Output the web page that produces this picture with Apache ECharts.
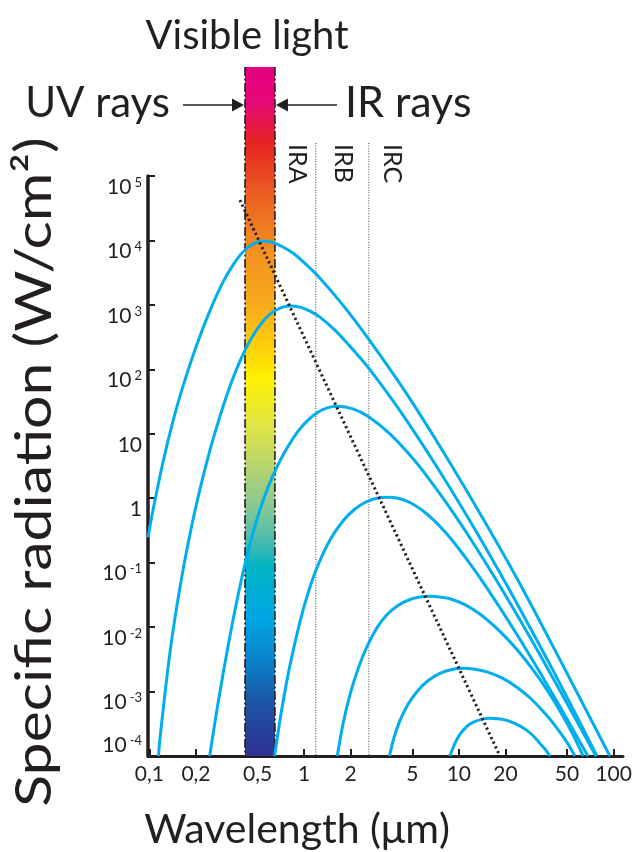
<!DOCTYPE html>
<html>
<head>
<meta charset="utf-8">
<title>Specific radiation of a black body</title>
<script src="https://cdn.jsdelivr.net/npm/echarts@6.0.0/dist/echarts.min.js"></script>
<style>
html,body{margin:0;padding:0;background:#ffffff;}
#chart{width:642px;height:852px;}
</style>
</head>
<body>
<div id="chart"></div>
<script>
// ---------------- data ----------------
const xTickValues = [0.1, 0.2, 0.5, 1, 2, 5, 10, 20, 50, 100];
const xTickLabels = ['0,1', '0,2', '0,5', '1', '2', '5', '10', '20', '50', '100'];
const yTickValues = [1e-4, 1e-3, 1e-2, 1e-1, 1, 10, 1e2, 1e3, 1e4, 1e5];

// [wavelength (µm), specific radiation (W/cm²)]
const curve5000K = [[0.098,0.248],[0.1055,0.651],[0.1225,3.62],[0.1421,15.7],[0.165,54.8],[0.1913,163],[0.2221,436],[0.2577,1048],[0.299,2259],[0.347,4150],[0.4026,6604],[0.4672,8794],[0.542,9788],[0.6289,9278],[0.7298,7899],[0.847,6373],[0.9829,4703],[1.2286,2801],[1.7822,993],[2.5844,305],[4.4817,45.9],[7.8873,5.37],[13.674,0.585],[23.711,0.0573],[46.315,0.00274],[94.56,1e-4]];
const curve4000K = [[0.1146,1e-4],[0.1171,1.88e-4],[0.1359,0.00406],[0.1577,0.0415],[0.183,0.276],[0.2124,1.38],[0.2464,5.56],[0.286,18.8],[0.3319,54.8],[0.385,134],[0.4468,279],[0.5184,486],[0.6014,720],[0.6979,892],[0.81,958],[0.94,924],[1.0907,801],[1.2657,646],[1.5822,406],[1.9778,229],[2.5844,108],[4.1595,22.8],[7.5432,2.58],[12.694,0.33],[20.434,0.0446],[28.77,0.00993],[41.733,0.00188],[58.753,3.84e-4],[77.94,1e-4]];
const curve2000K = [[0.2453,1e-4],[0.2776,6.51e-4],[0.3222,0.005],[0.3737,0.0307],[0.4337,0.1466],[0.5032,0.531],[0.5838,1.471],[0.6774,3.29],[0.7863,6.37],[0.9125,10.9],[1.0588,16.3],[1.2286,21.6],[1.4257,25.4],[1.6544,26.8],[2.068,24.4],[2.5844,18.7],[3.5852,9.96],[5.0478,4.12],[6.5,1.91],[8.753,0.707],[12.14,0.217],[17.093,0.0585],[24.793,0.013],[35.952,0.00272],[52.164,5.45e-4],[76.79,1e-4]];
const curve1000K = [[0.644,1e-4],[0.719,5.51e-4],[0.81,0.00255],[0.94,0.0121],[1.0588,0.0333],[1.2105,0.0833],[1.4688,0.224],[1.7822,0.443],[2.1305,0.681],[2.5462,0.89],[2.9546,1.0],[3.4287,1.036],[4.0376,0.996],[4.8275,0.858],[5.7705,0.656],[6.7966,0.469],[8.1255,0.301],[9.714,0.18],[11.44,0.107],[13.674,0.0587],[18.414,0.0201],[24.793,0.00647],[33.376,0.00199],[44.958,5.85e-4],[56.191,2.28e-4],[68.17,1e-4]];
const curve673K = [[1.6372,1e-4],[1.7822,3.11e-4],[1.9778,8.9e-4],[2.2277,0.00222],[2.5462,0.00497],[2.9546,0.00972],[3.4287,0.0155],[4.0376,0.0216],[4.8275,0.0268],[5.6014,0.0293],[6.5,0.0301],[7.5432,0.0294],[8.753,0.0276],[10.94,0.0224],[13.674,0.016],[17.093,0.0102],[20.434,0.00669],[24.793,0.00396],[30.082,0.00219],[37.038,0.00107],[44.958,5.05e-4],[53.738,2.33e-4],[63.57,1e-4]];
const curve363K = [[3.564,1e-4],[3.8047,1.9e-4],[4.1595,3.53e-4],[4.6861,6.3e-4],[5.357,9.96e-4],[6.3096,0.00147],[7.5432,0.00192],[9.0175,0.0022],[10.619,0.00229],[12.694,0.00222],[15.178,0.00202],[18.97,0.00163],[23.711,0.00117],[28.77,8.01e-4],[34.899,4.98e-4],[41.733,2.98e-4],[49.887,1.64e-4],[56.191,1e-4]];
const curve200K = [[8.753,1e-4],[9.4293,1.57e-4],[10.156,2.16e-4],[11.271,2.88e-4],[12.322,3.32e-4],[13.674,3.64e-4],[15.636,3.84e-4],[17.873,3.77e-4],[20.434,3.57e-4],[23.711,3.09e-4],[27.514,2.5e-4],[30.533,2.01e-4],[33.376,1.57e-4],[35.952,1.29e-4],[38.726,1e-4]];
const wienPeakLine = [[0.385,42400],[18.41,1e-4]];

const visibleRange = [0.415, 0.648];
const irBoundaries = [1.19, 2.62];
const irBandNames = ['IRA', 'IRB', 'IRC'];
const irBandLabelX = [0.906, 1.782, 3.69];
const curveLabelNames = ['5000 K', '4000 K', '2000 K', '1000 K', '673 K', '500 K', '363 K', '300 K', '200 K'];
const curveLabelAnchors = [[0.1957,1253],[0.2695,134],[0.4813,3.25],[1.175,0.318],[1.863,0.0218],[2.663,0.01067],[3.183,0.00255],[4.35,0.00112],[8.88,3.84e-4]];

// ---------------- style ----------------
const FONT = 'Lato, "Open Sans", sans-serif';
const INK = '#231f20';
const CYAN = '#00aeef';
const bandStops = [
  {offset:0, color:'#e4007f'}, {offset:0.05, color:'#e6097a'}, {offset:0.11, color:'#e52421'},
  {offset:0.19, color:'#ec6223'}, {offset:0.27, color:'#f39220'}, {offset:0.35, color:'#f8ad1c'},
  {offset:0.41, color:'#fdd20a'}, {offset:0.45, color:'#fff100'}, {offset:0.52, color:'#e0e543'},
  {offset:0.58, color:'#b5d56d'}, {offset:0.64, color:'#86c894'}, {offset:0.69, color:'#48bab0'},
  {offset:0.725, color:'#00b4c4'}, {offset:0.80, color:'#00a6e4'}, {offset:0.86, color:'#0a83cc'},
  {offset:0.92, color:'#1b56a4'}, {offset:1, color:'#2e3192'}
];
const BAND_TOP = 67, ARROW_Y = 105, IR_TOP = 143;

function xLabel(v) {
  let best = 0;
  xTickValues.forEach((t, i) => { if (Math.abs(Math.log10(t) - Math.log10(v)) < Math.abs(Math.log10(xTickValues[best]) - Math.log10(v))) best = i; });
  return xTickLabels[best];
}
function yLabel(v) {
  const e = Math.round(Math.log10(v));
  const body = e === 0 ? '{b|1}' : (e === 1 ? '{b|10}' : '{b|10}{s|' + e + '}');
  return e === -4 ? body + '\n{g| }' : '{g| }\n' + body;
}

function curveSeries(name, data) {
  return {
    name, type: 'line', data, smooth: 0.3, symbol: 'none', z: 5,
    lineStyle: {color: CYAN, width: 3}, silent: true, animation: false
  };
}

const chart = echarts.init(document.getElementById('chart'), null, {renderer: 'canvas'});
chart.setOption({
  backgroundColor: '#ffffff',
  animation: false,
  grid: {left: 148, right: 19, top: 176, bottom: 96, containLabel: false},
  xAxis: {
    type: 'log', min: 0.098, max: 115,
    axisLine: {show: true, lineStyle: {color: INK, width: 3}},
    axisTick: {show: true, inside: true, length: 7, lineStyle: {color: INK, width: 2}, customValues: xTickValues},
    axisLabel: {show: true, customValues: xTickValues, formatter: xLabel, color: INK, fontFamily: FONT, fontSize: 21, margin: 8},
    splitLine: {show: false}, minorTick: {show: false}
  },
  yAxis: {
    type: 'log', min: 1e-4, max: 1e5,
    axisLine: {show: true, lineStyle: {color: INK, width: 3.5}},
    axisTick: {show: true, inside: true, length: 7, lineStyle: {color: INK, width: 2}, customValues: yTickValues},
    axisLabel: {
      show: true, customValues: yTickValues, formatter: yLabel, margin: 6, color: INK,
      rich: {
        b: {fontFamily: FONT, fontSize: 21, lineHeight: 22, color: INK},
        s: {fontFamily: FONT, fontSize: 13, lineHeight: 13, verticalAlign: 'top', padding: [0,0,0,3], color: INK},
        g: {fontSize: 10, lineHeight: 22}
      }
    },
    splitLine: {show: false}, minorTick: {show: false}
  },
  graphic: [
    {type: 'text', x: 35, y: 472, rotation: Math.PI / 2, scaleX: 1.18, style: {text: 'Specific radiation (W/cm²)', fontFamily: FONT, fontSize: 50, fill: INK, align: 'center', verticalAlign: 'middle'}},
    {type: 'text', x: 297, y: 830, style: {text: 'Wavelength (μm)', fontFamily: FONT, fontSize: 41, fill: INK, align: 'center', verticalAlign: 'middle'}}
  ],
  series: [
    {
      name: 'visible band', type: 'custom', clip: false, z: 1, silent: true,
      data: [visibleRange],
      renderItem: function (params, api) {
        const pL = api.coord([api.value(0), 1e-4]);
        const pR = api.coord([api.value(1), 1e-4]);
        const xl = pL[0], xr = pR[0], bottom = pL[1];
        const edge = {stroke: INK, lineWidth: 1.6, lineDash: [9, 2.5, 2, 2.5]};
        return {type: 'group', children: [
          {type: 'rect', shape: {x: xl, y: BAND_TOP, width: xr - xl, height: bottom - BAND_TOP},
           style: {fill: {type: 'linear', x: 0, y: 0, x2: 0, y2: 1, colorStops: bandStops}}},
          {type: 'line', shape: {x1: xl, y1: BAND_TOP, x2: xl, y2: bottom}, style: edge},
          {type: 'line', shape: {x1: xr, y1: BAND_TOP, x2: xr, y2: bottom}, style: edge},
          {type: 'line', shape: {x1: xl - 62, y1: ARROW_Y, x2: xl - 10, y2: ARROW_Y}, style: {stroke: INK, lineWidth: 1.5}},
          {type: 'polygon', shape: {points: [[xl - 1, ARROW_Y], [xl - 13, ARROW_Y - 6.5], [xl - 13, ARROW_Y + 6.5]]}, style: {fill: INK}},
          {type: 'line', shape: {x1: xr + 10, y1: ARROW_Y, x2: xr + 62, y2: ARROW_Y}, style: {stroke: INK, lineWidth: 1.5}},
          {type: 'polygon', shape: {points: [[xr + 1, ARROW_Y], [xr + 13, ARROW_Y - 6.5], [xr + 13, ARROW_Y + 6.5]]}, style: {fill: INK}},
          {type: 'text', x: xl - 75, y: ARROW_Y - 2, style: {text: 'UV rays', fontFamily: FONT, fontSize: 42, fill: INK, align: 'right', verticalAlign: 'middle'}},
          {type: 'text', x: xr + 70, y: ARROW_Y - 2, style: {text: 'IR rays', fontFamily: FONT, fontSize: 43, fill: INK, align: 'left', verticalAlign: 'middle'}},
          {type: 'text', x: (xl + xr) / 2 - 13, y: 36, style: {text: 'Visible light', fontFamily: FONT, fontSize: 40, fill: INK, align: 'center', verticalAlign: 'middle'}}
        ]};
      }
    },
    {
      name: 'IR boundaries', type: 'custom', clip: false, z: 2, silent: true,
      data: irBoundaries.map(v => [v, 1e-4]),
      renderItem: function (params, api) {
        const p = api.coord([api.value(0), api.value(1)]);
        return {type: 'line', shape: {x1: p[0], y1: IR_TOP, x2: p[0], y2: p[1]}, style: {stroke: '#444', lineWidth: 1, lineDash: [1, 1.6]}};
      }
    },
    {
      name: 'IR band names', type: 'custom', clip: false, z: 2, silent: true,
      data: irBandLabelX.map((v, i) => [v, 1e-4, i]),
      renderItem: function (params, api) {
        const p = api.coord([api.value(0), api.value(1)]);
        return {type: 'text', x: p[0], y: IR_TOP + 1, rotation: -Math.PI / 2,
          style: {text: irBandNames[api.value(2)], fontFamily: FONT, fontSize: 25, fill: INK, align: 'left', verticalAlign: 'middle'}};
      }
    },
    curveSeries('5000 K', curve5000K),
    curveSeries('4000 K', curve4000K),
    curveSeries('2000 K', curve2000K),
    curveSeries('1000 K', curve1000K),
    curveSeries('673 K', curve673K),
    curveSeries('363 K', curve363K),
    curveSeries('200 K', curve200K),
    {
      name: 'Wien peak line', type: 'line', data: wienPeakLine, symbol: 'none', z: 6, silent: true,
      lineStyle: {color: INK, width: 3, type: [2.2, 3]}
    },
    {
      name: 'curve labels', type: 'scatter', z: 7, silent: true, symbolSize: 1,
      itemStyle: {opacity: 0},
      data: curveLabelAnchors.map((p, i) => ({value: p, name: curveLabelNames[i]})),
      label: {show: true, position: 'inside', formatter: '{b}', rotate: 60, color: INK, fontFamily: FONT, fontSize: 19}
    }
  ]
});
</script>
</body>
</html>
